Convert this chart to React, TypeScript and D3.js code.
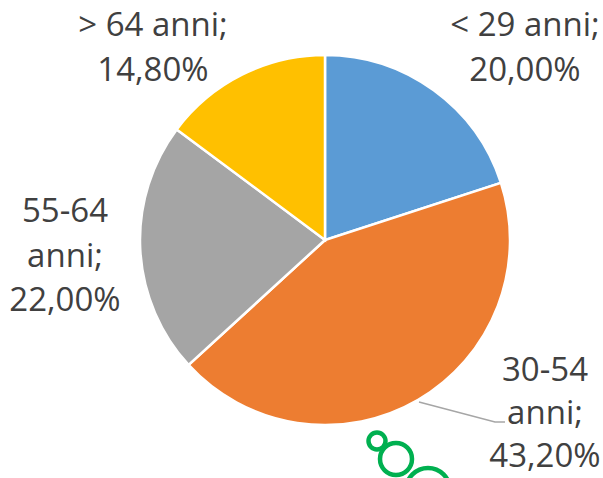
import React from "react";
import * as d3 from "d3";

const categories = ["< 29 anni", "30-54 anni", "55-64 anni", "> 64 anni"];
const values = [20.0, 43.2, 22.0, 14.8];
const colors = ["#5B9BD5", "#ED7D31", "#A5A5A5", "#FFC000"];

const W = 603;
const H = 478;
const cx = 325;
const cy = 240;
const radius = 185;

const splitLines = (c: string, v: string) =>
  [...c.split(" "), v].map((s, i) => (i === 1 ? s + ";" : s));

// label placement, baseline of first line
const labelLayout = [
  { x: 525, y: 36, dy: 44.5, lines: (c: string, v: string) => [c + ";", v] },
  { x: 545, y: 381, dy: 43, lines: splitLines },
  { x: 65, y: 222, dy: 44.5, lines: splitLines },
  { x: 153, y: 36, dy: 44.5, lines: (c: string, v: string) => [c + ";", v] },
];

const fmt = (v: number) => v.toFixed(2).replace(".", ",") + "%";

const App = () => {
  const pie = d3.pie<number>().sort(null).value((d) => d)(values);
  const arc = d3.arc<d3.PieArcDatum<number>>().innerRadius(0).outerRadius(radius);

  return (
    <svg
      width={W}
      height={H}
      style={{ position: "absolute", left: 0, top: 0, background: "#fff" }}
      fontFamily="'Open Sans', sans-serif"
    >
      <g transform={`translate(${cx},${cy})`}>
        {pie.map((p, i) => (
          <path key={i} d={arc(p) || ""} fill={colors[i]} stroke="#fff" strokeWidth={2.5} />
        ))}
      </g>

      {/* leader line for the 30-54 slice */}
      <polyline points="419,402 495,422 505,422" fill="none" stroke="#A6A6A6" strokeWidth={1.5} />

      {categories.map((c, i) => {
        const l = labelLayout[i];
        return (
          <text key={c} x={l.x} y={l.y} textAnchor="middle" fontSize={33} fill="#404040">
            {l.lines(c, fmt(values[i])).map((s, j) => (
              <tspan key={j} x={l.x} dy={j === 0 ? 0 : l.dy}>
                {s}
              </tspan>
            ))}
          </text>
        );
      })}

      {/* green mark partially visible at the bottom */}
      <g fill="none" stroke="#00B050" strokeWidth={4.5}>
        <circle cx={377} cy={441} r={8.5} />
        <circle cx={396} cy={459} r={16} />
        <circle cx={428} cy={490} r={22} />
      </g>
    </svg>
  );
};

export default App;
